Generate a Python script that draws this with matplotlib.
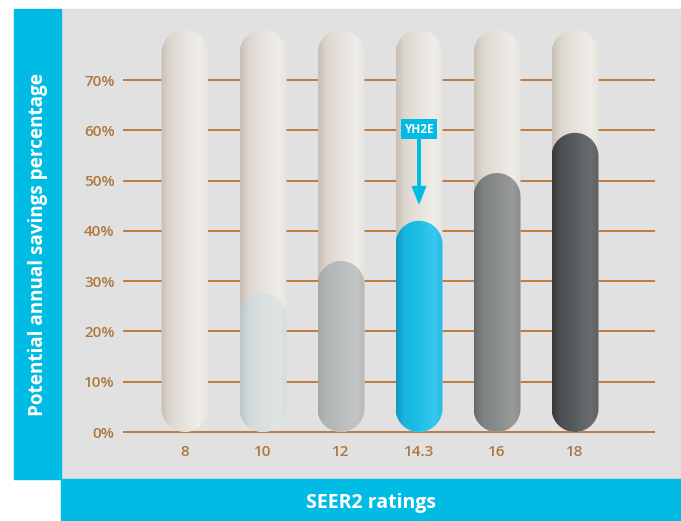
import numpy as np
import matplotlib
matplotlib.use("Agg")
import matplotlib.pyplot as plt
from matplotlib.patches import Rectangle, PathPatch
from matplotlib.path import Path
from matplotlib.colors import to_rgb

# ---- data ----
categories = ["8", "10", "12", "14.3", "16", "18"]
savings = [0, 27.5, 34, 42, 51.5, 59.5]
tube_max = 80
yticks = [0, 10, 20, 30, 40, 50, 60, 70]
ytick_labels = ["0%", "10%", "20%", "30%", "40%", "50%", "60%", "70%"]
highlight_label = "YH2E"
highlight_index = 3
ylabel_text = "Potential annual savings percentage"
xlabel_text = "SEER2 ratings"

# ---- styles ----
BLUE = "#00bbe4"
PANEL = "#e1e1e1"
GRID = "#bb6a20"
TICK = "#ad773f"
FONT = "Open Sans"
tube_colors = ["#c9bfb3", "#dcd6cf", "#e5e1db", "#efede9", "#e7e3dd"]
fill_colors = [
    None,
    ["#bcc7c8", "#cfd8d8", "#d8dfdf", "#e0e5e5", "#d6dcdc"],
    ["#a2a8a8", "#b2b6b5", "#b8bcbb", "#c2c5c4", "#b6bab9"],
    ["#1496c2", "#19b5e0", "#1bbde6", "#38c8ee", "#25b9e2"],
    ["#666a6a", "#7e8282", "#888b8b", "#999b9b", "#8a8d8d"],
    ["#35393c", "#4b4f52", "#555a5c", "#6a6e71", "#5c6063"],
]

W, H = 681, 521
fig = plt.figure(figsize=(W / 100, H / 100), dpi=100)
fig.patch.set_facecolor("white")

def fx(px):
    return px / W

def fy(py):
    return 1 - py / H

# background panels
fig.patches.append(Rectangle((fx(61), fy(479)), fx(W - 61), fy(9) - fy(479),
                             transform=fig.transFigure, color=PANEL, zorder=-5))
fig.patches.append(Rectangle((fx(14), fy(479)), fx(61 - 14), fy(9) - fy(479),
                             transform=fig.transFigure, color=BLUE, zorder=-5))
fig.patches.append(Rectangle((fx(61), 0), fx(W - 61), fy(479),
                             transform=fig.transFigure, color=BLUE, zorder=-5))

fig.text(fx(38), fy(245), ylabel_text, rotation=90, ha="center", va="center",
         color="white", fontsize=13.6, fontweight="bold", family=FONT)
fig.text(fx(371), fy(503), xlabel_text, ha="center", va="center",
         color="white", fontsize=14, fontweight="bold", family=FONT)

# main axes: y=0 at px 432, y=70 at px 80
ppu = (432 - 80) / 70.0
ymin, ymax = -2, 84
ax_bot = fy(432 + (0 - ymin) * ppu)
ax_top = fy(432 - ymax * ppu)
x_spacing = 78.0
xl, xr = -(185 - 123) / x_spacing, 5 + (655 - 575) / x_spacing
ax = fig.add_axes([fx(123), ax_bot, fx(655 - 123), ax_top - ax_bot])
ax.set_zorder(2)
ax.set_xlim(xl, xr)
ax.set_ylim(ymin, ymax)
ax.patch.set_alpha(0)
for s in ax.spines.values():
    s.set_visible(False)

for t in yticks:
    ax.axhline(t, color=GRID, lw=1.2, zorder=0)

ax.set_yticks(yticks)
ax.set_yticklabels(ytick_labels, family=FONT, fontsize=11, fontweight="semibold", color=TICK)
xpos = np.arange(len(categories))
ax.set_xticks(xpos)
ax.set_xticklabels(categories, family=FONT, fontsize=11, fontweight="semibold", color=TICK)
ax.tick_params(length=0)
ax.tick_params(axis="y", pad=6)
ax.tick_params(axis="x", pad=2)

# pixel scales
p0 = ax.transData.transform((0, 0))
sx = ax.transData.transform((1, 0))[0] - p0[0]
sy = ax.transData.transform((0, 1))[1] - p0[1]
half_w_px = 23.5
hw = half_w_px / sx
ry = half_w_px / sy

def pill(xc, y0, y1):
    th_top = np.linspace(0, np.pi, 40)
    th_bot = np.linspace(np.pi, 2 * np.pi, 40)
    top = np.column_stack([xc + hw * np.cos(th_top), (y1 - ry) + ry * np.sin(th_top)])
    bot = np.column_stack([xc + hw * np.cos(th_bot), (y0 + ry) + ry * np.sin(th_bot)])
    verts = np.vstack([top, bot, top[:1]])
    codes = [Path.MOVETO] + [Path.LINETO] * (len(verts) - 2) + [Path.CLOSEPOLY]
    return Path(verts, codes)

def gradient(colors, n=120):
    stops = np.array([0, 0.18, 0.45, 0.82, 1.0])
    xs = np.linspace(0, 1, n)
    rgb = np.array([to_rgb(c) for c in colors])
    arr = np.stack([np.interp(xs, stops, rgb[:, k]) for k in range(3)], axis=-1)
    return arr[np.newaxis, :, :]

def draw_pill(xc, y0, y1, colors, z):
    path = pill(xc, y0, y1)
    patch = PathPatch(path, facecolor="none", edgecolor="none", zorder=z)
    ax.add_patch(patch)
    im = ax.imshow(gradient(colors), extent=(xc - hw, xc + hw, y0, y1),
                   aspect="auto", zorder=z, interpolation="bilinear")
    im.set_clip_path(patch)

for i, v in enumerate(savings):
    draw_pill(xpos[i], 0, tube_max, tube_colors, 2)
    if fill_colors[i] is not None and v > 0:
        draw_pill(xpos[i], 0, v, fill_colors[i], 3)

ax.set_xlim(xl, xr)
ax.set_ylim(ymin, ymax)

ax.annotate(highlight_label, xy=(xpos[highlight_index], savings[highlight_index] + 3.5),
            xytext=(xpos[highlight_index], 60.2), ha="center", va="center",
            color="white", fontsize=8.5, fontweight="bold", family=FONT,
            bbox=dict(boxstyle="square,pad=0.3", fc=BLUE, ec="none"),
            arrowprops=dict(width=1.8, headwidth=9.5, headlength=12, color=BLUE,
                            shrink=0),
            zorder=5)

fig.savefig("out.png", dpi=100)
